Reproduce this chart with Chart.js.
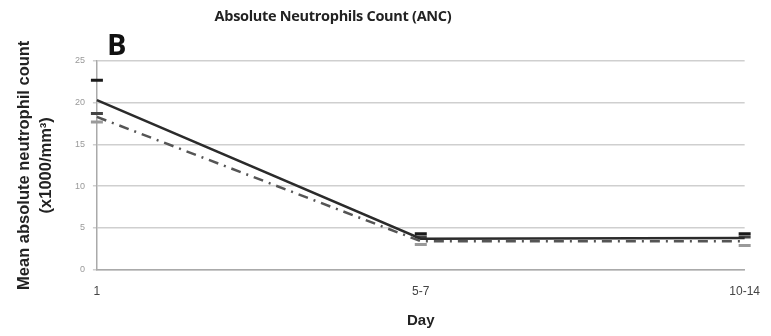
<!DOCTYPE html>
<html>
<head>
<meta charset="utf-8">
<script src="https://cdn.jsdelivr.net/npm/chart.js@4"></script>
<style>
  body { margin: 0; background: #fff; font-family: "Open Sans", "DejaVu Sans", sans-serif; }
  #wrap { position: relative; width: 771px; height: 336px; }
  #title { position: absolute; left: 0; width: 666px; top: 6px; text-align: center; font-weight: bold; font-size: 14.5px;
           letter-spacing: -0.3px; color: #222; }
  #panel { position: absolute; left: 107px; top: 24px; font-weight: bold; font-size: 29px; color: #111; }
</style>
</head>
<body>
<div id="wrap">
  <div id="title">Absolute Neutrophils Count (ANC)</div>
  <div id="panel">B</div>
  <canvas id="ancChart" width="771" height="336"></canvas>
</div>
<script>
const days = ['1', '5-7', '10-14'];
const solidMean = [20.3, 3.7, 3.8];
const dashMean = [18.3, 3.4, 3.4];
const solidUpper = [22.7, 4.3, 4.3];
const dashUpper = [18.7, 3.9, 3.9];
const lowerCaps = [17.7, 3.0, 2.9];
const yTicks = [0, 5, 10, 15, 20, 25];

function capSet(values, color) {
    return {
        data: values,
        showLine: false,
        pointStyle: 'line',
        pointRadius: 6,
        pointBorderWidth: 3,
        pointBorderColor: color,
        borderColor: color
    };
}

new Chart(document.getElementById('ancChart'), {
    type: 'line',
    data: {
        labels: days,
        datasets: [
            {
                data: solidMean,
                borderColor: '#2b2b2b',
                borderWidth: 2.5,
                pointRadius: 0,
                tension: 0
            },
            {
                data: dashMean,
                borderColor: '#555',
                borderWidth: 2.5,
                borderDash: [10, 6, 2, 6],
                pointRadius: 0,
                tension: 0
            },
            capSet(solidUpper, '#1a1a1a'),
            capSet(dashUpper, '#444'),
            capSet(lowerCaps, '#9a9a9a')
        ]
    },
    options: {
        responsive: false,
        animation: false,
        layout: { padding: { top: 61, right: 6, left: 10, bottom: 2 } },
        plugins: { legend: { display: false }, tooltip: { enabled: false } },
        scales: {
            x: {
                offset: false,
                grid: { display: false, drawTicks: true, tickLength: 4, tickColor: '#aaa' },
                border: { color: '#aaa', width: 1.5 },
                ticks: { color: '#444', font: { size: 12 }, padding: 11 },
                title: { display: true, text: 'Day', color: '#222', font: { size: 15, weight: 'bold' }, padding: { top: 2 } }
            },
            y: {
                min: 0,
                max: 25,
                afterBuildTicks: axis => { axis.ticks = yTicks.map(v => ({ value: v })); },
                grid: { color: '#cfcfcf', lineWidth: 1.5, tickLength: 4 },
                border: { color: '#aaa', width: 1.5 },
                ticks: { color: '#999', font: { size: 9 }, padding: 8 },
                title: {
                    display: true,
                    text: ['Mean absolute neutrophil count', '(x1000/mm\u00b3)'],
                    color: '#222',
                    font: { size: 16.5, weight: 'bold', lineHeight: 1.3 },
                    padding: { bottom: 10 }
                }
            }
        }
    }
});
</script>
</body>
</html>
